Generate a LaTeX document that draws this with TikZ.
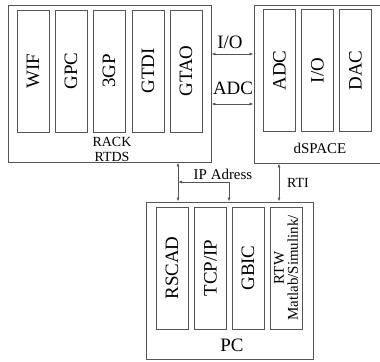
\documentclass[tikz,border=0pt]{standalone}
\usepackage{fontspec}
\setmainfont{Liberation Serif}
\usetikzlibrary{arrows.meta}
\definecolor{linegray}{RGB}{85,85,85}
\def\FS#1{\fontsize{#1}{#1}\selectfont}
\tikzset{
  frame/.style={draw=linegray,line width=0.8bp,inner sep=0pt},
  module/.style={draw=linegray,line width=0.8bp,rotate=90,inner sep=0pt,
    minimum width=122bp,minimum height=32bp,font=\FS{19}},
  link/.style={draw=linegray,line width=0.8bp,
    {Latex[length=4bp,width=3bp]}-{Latex[length=4bp,width=3bp]}},
}
\def\RM#1#2#3{\node[module] (#1) at (#2,71) {#3};}
\def\DM#1#2#3{\node[module] (#1) at (#2,70.5) {#3};}
\def\PM#1#2#3{\node[module] (#1) at (#2,268) {#3};}

\begin{document}
\begin{tikzpicture}[x=1bp,y=-1bp]
  \useasboundingbox (0,0) rectangle (380,362);
  % outer boxes
  \node[frame,minimum width=203bp,minimum height=157bp] (rack) at (109.5,83.5) {};
  \node[frame,minimum width=127bp,minimum height=158bp] (dspace) at (317.5,84) {};
  \node[frame,minimum width=167bp,minimum height=157bp] (pc) at (229.5,280.5) {};
  % modules
  \RM{wif}{33}{WIF} \RM{gpc}{71}{GPC} \RM{tgp}{109}{3GP} \RM{gtdi}{148}{GTDI} \RM{gtao}{186}{GTAO}
  \DM{adc}{279.5}{ADC} \DM{dio}{317.5}{I/O} \DM{dac}{355.5}{DAC}
  \PM{rscad}{172}{RSCAD} \PM{tcp}{210.5}{TCP/IP} \PM{gbic}{248}{GBIC}
  \node[module,font=\FS{15},align=center,text depth=0pt] (rtw) at (286,268)
    {RTW\\[-1bp]Matlab/Simulink/};
  % box labels
  \node[font=\FS{14}] (racklbl) at (112,142) {RACK};
  \node[font=\FS{14}] (rtdslbl) at (112,157) {RTDS};
  \node[font=\FS{15}] (dslbl) at (320,148) {dSPACE};
  \node[font=\FS{19}] (pclbl) at (232,345) {PC};
  % links
  \coordinate (io) at (0,54);
  \coordinate (ad) at (0,104);
  \draw[link] (rack.east |- io) -- (dspace.west |- io);
  \draw[link] (rack.east |- ad) -- (dspace.west |- ad);
  \node[font=\FS{19}] (iolbl) at (230,42) {I/O};
  \node[font=\FS{19}] (adlbl) at (233,88) {ADC};
  \coordinate (lnk) at (178,0);
  \coordinate (ipa) at (229,182);
  \coordinate (rti) at (279,0);
  \draw[link] (rack.south -| lnk) -- (pc.north -| lnk);
  \draw[link] (lnk |- ipa) -- (ipa) -- (pc.north -| ipa);
  \draw[link] (dspace.south -| rti) -- (pc.north -| rti);
  \node[font=\FS{15}] (iplbl) at (223,174) {IP Adress};
  \node[font=\FS{14}] (rtilbl) at (298,183) {RTI};
\end{tikzpicture}
\end{document}
